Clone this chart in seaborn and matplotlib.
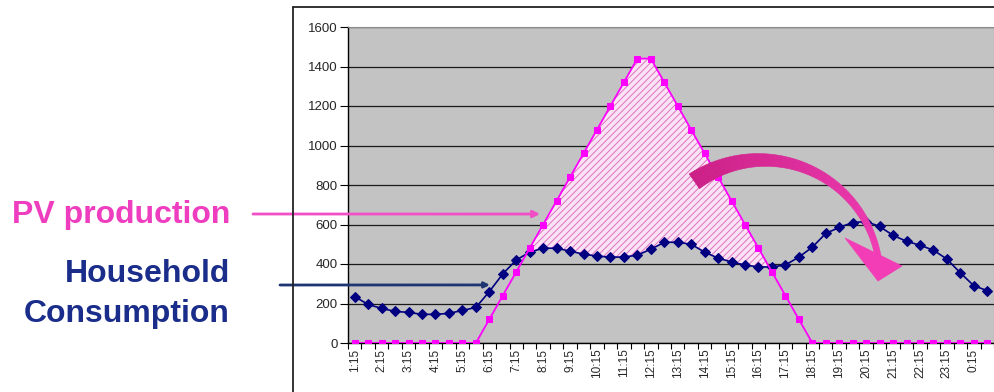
import matplotlib
matplotlib.use("Agg")
import numpy as np
import pandas as pd
import matplotlib.pyplot as plt
import seaborn as sns
from matplotlib.collections import PolyCollection
from matplotlib.patches import Polygon
from matplotlib.lines import Line2D
from matplotlib.colors import to_rgb

# Half-hour time slots over one day
time_slots = ["1:15", "1:45", "2:15", "2:45", "3:15", "3:45", "4:15", "4:45",
              "5:15", "5:45", "6:15", "6:45", "7:15", "7:45", "8:15", "8:45",
              "9:15", "9:45", "10:15", "10:45", "11:15", "11:45", "12:15", "12:45",
              "13:15", "13:45", "14:15", "14:45", "15:15", "15:45", "16:15", "16:45",
              "17:15", "17:45", "18:15", "18:45", "19:15", "19:45", "20:15", "20:45",
              "21:15", "21:45", "22:15", "22:45", "23:15", "23:45", "0:15", "0:45"]
tick_labels = time_slots[::2]

# Power (W)
household = [235, 195, 175, 160, 155, 145, 145, 150, 165, 180, 260, 350,
             420, 460, 480, 480, 465, 450, 440, 435, 435, 445, 475, 510,
             510, 500, 460, 430, 410, 395, 385, 385, 395, 435, 485, 555,
             585, 610, 615, 590, 545, 515, 495, 470, 425, 355, 290, 265]
pv = [0, 0, 0, 0, 0, 0, 0, 0, 0, 0, 120, 240,
      360, 480, 600, 720, 840, 960, 1080, 1200, 1320, 1440, 1440, 1320,
      1200, 1080, 960, 840, 720, 600, 480, 360, 240, 120, 0, 0,
      0, 0, 0, 0, 0, 0, 0, 0, 0, 0, 0, 0]

df = pd.DataFrame({"slot": np.arange(len(time_slots)),
                   "Household": household, "PV": pv})

sns.set_style("white")
plt.rcParams["font.family"] = ["Liberation Sans", "DejaVu Sans"]
plt.rcParams["hatch.linewidth"] = 0.7

W, H = 995, 392
fig = plt.figure(figsize=(W / 100, H / 100), dpi=100)
fig.patch.set_facecolor("white")
ax = fig.add_axes([348 / W, 49 / H, 646 / W, 316 / H])
ax.set_facecolor("#c3c3c3")


def fxy(x, y):
    """Pixel position measured from the top-left corner -> figure fraction."""
    return (x / W, 1 - y / H)


# Surplus of PV over household demand
ax.fill_between(df["slot"], df["Household"], df["PV"],
                where=df["PV"] >= df["Household"], interpolate=True,
                facecolor="#fbe2f4", edgecolor="#dc72c0", hatch="/////",
                linewidth=0, zorder=1)

sns.lineplot(data=df, x="slot", y="Household", ax=ax, color="#000080",
             marker="D", markersize=4.8, markeredgecolor="#000080",
             linewidth=1.2, zorder=3)
sns.lineplot(data=df, x="slot", y="PV", ax=ax, color="#ff00ff",
             marker="s", markersize=4.8, markeredgecolor="#ff00ff",
             linewidth=1.3, zorder=4)

ax.set_xlim(-0.5, len(time_slots) - 0.5)
ax.set_ylim(0, 1600)
ax.set_yticks(range(0, 1601, 200))
ax.set_axisbelow(True)
ax.yaxis.grid(True, color="#1a1a1a", linewidth=0.9)
ax.xaxis.grid(False)

ax.set_xticks(np.arange(0, len(time_slots), 2))
ax.set_xticklabels(tick_labels, rotation=90, fontsize=8.5)
ax.set_xticks(np.arange(-0.5, len(time_slots), 1), minor=True)
ax.tick_params(axis="x", which="major", bottom=True, length=0, pad=4)
ax.tick_params(axis="x", which="minor", bottom=True, length=4, width=0.8,
               color="black", direction="out")
ax.tick_params(axis="y", left=True, length=6, width=0.8, pad=1.5,
               labelsize=9.5, color="black", direction="out")
ax.set_xlabel("")
ax.set_ylabel("")

for side in ("left", "bottom"):
    ax.spines[side].set_color("black")
    ax.spines[side].set_linewidth(1.0)
for side in ("top", "right"):
    ax.spines[side].set_color("#8c8c8c")
    ax.spines[side].set_linewidth(0.8)

# Chart frame
fig.add_artist(Line2D([293 / W, 293 / W], [0, 1 - 7 / H],
                      transform=fig.transFigure, color="#222222", lw=1.3))
fig.add_artist(Line2D([293 / W, 1], [1 - 7 / H, 1 - 7 / H],
                      transform=fig.transFigure, color="#222222", lw=1.3))

# Series labels
fig.text(*fxy(230, 223), "PV production", ha="right", va="baseline",
         fontsize=23, fontweight="bold", color="#ef3dc0")
fig.text(*fxy(230, 282), "Household", ha="right", va="baseline",
         fontsize=23, fontweight="bold", color="#1a2d8a")
fig.text(*fxy(230, 322), "Consumption", ha="right", va="baseline",
         fontsize=23, fontweight="bold", color="#1a2d8a")

ax.annotate("", xy=(13.77, 653), xycoords="data",
            xytext=(253, H - 214), textcoords="figure pixels",
            arrowprops=dict(arrowstyle="-|>", color="#f24fc6", lw=2,
                            mutation_scale=10, shrinkA=0, shrinkB=0),
            annotation_clip=False)
ax.annotate("", xy=(10.05, 294), xycoords="data",
            xytext=(280, H - 285), textcoords="figure pixels",
            arrowprops=dict(arrowstyle="-|>", color="#1d3570", lw=2,
                            mutation_scale=8, shrinkA=0, shrinkB=0),
            annotation_clip=False)

# Curved arrow: surplus shifted into the evening
cx, cy, r = 762, 278, 118
n = 80
phi = np.radians(np.linspace(125, 10, n))
t = np.linspace(0, 1, n)
half = 3.0 + 6.0 * (1 - t) ** 1.6
outer = [fxy(cx + (r + h) * np.cos(p), cy - (r + h) * np.sin(p)) for p, h in zip(phi, half)]
inner = [fxy(cx + (r - h) * np.cos(p), cy - (r - h) * np.sin(p)) for p, h in zip(phi, half)]
c0, c1 = np.array(to_rgb("#cc1f86")), np.array(to_rgb("#f23db6"))
quads, cols = [], []
for k in range(n - 1):
    quads.append([outer[k], outer[k + 1], inner[k + 1], inner[k]])
    cols.append(tuple(c0 + (c1 - c0) * t[k]))
body = PolyCollection(quads, facecolors=cols, edgecolors=cols, linewidths=0.4,
                      transform=fig.transFigure, zorder=6)
fig.add_artist(body)
head = Polygon([fxy(845, 238), fxy(902, 266), fxy(878, 281)], closed=True,
               facecolor="#f23db6", edgecolor="#f23db6", lw=0.5,
               transform=fig.transFigure, zorder=6)
fig.add_artist(head)

fig.savefig("out.png", dpi=100)
